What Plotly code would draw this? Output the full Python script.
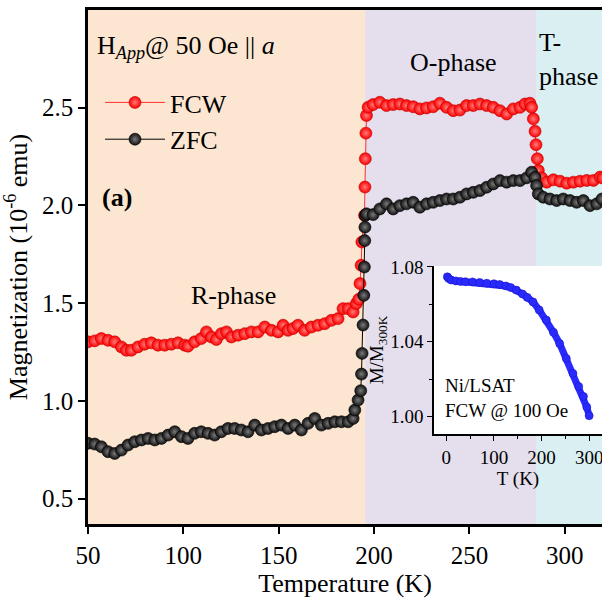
import plotly.graph_objects as go

# ---------------- data ----------------
T_fcw = [50, 53.5, 57, 60.5, 64, 67.5, 70.1, 72.7, 76.2, 79.7, 83.2, 86.7, 90.2, 93.7, 97.2,
         100.7, 102.4, 105.9, 109.4, 112.1, 114.7, 117.3, 119.9, 122.6, 125.2, 128.7, 132.2,
         135.7, 139.2, 142.7, 146.2, 149.7, 152.3, 154.9, 157.5, 160.1, 163.6, 167.1, 170.6,
         174.1, 177.6, 181.1, 183.7, 186.4, 189, 190.7, 192.0, 192.6, 193.2, 193.6, 195.0,
         195.2, 195.4, 195.7, 196.0, 196.9, 199.5, 203, 206.5, 210, 213.5, 217, 220.5, 224,
         227.5, 231, 234.5, 238, 241.5, 245, 248.5, 252, 255.5, 259, 262.5, 266, 269.5, 273,
         276.5, 279.1, 281.7, 282.6, 283.5, 284.4, 284.9, 285.6, 286.1, 287.9, 290.5, 294,
         297.5, 301, 304.5, 308, 311.5, 315, 318.5, 320]
M_fcw = [1.302, 1.307, 1.319, 1.31, 1.302, 1.276, 1.259, 1.259, 1.276, 1.29, 1.297, 1.285,
         1.285, 1.29, 1.297, 1.285, 1.28, 1.302, 1.319, 1.353, 1.327, 1.314, 1.344, 1.353,
         1.327, 1.336, 1.344, 1.353, 1.353, 1.378, 1.361, 1.353, 1.387, 1.361, 1.370, 1.387,
         1.361, 1.378, 1.387, 1.395, 1.412, 1.421, 1.472, 1.472, 1.455, 1.498, 1.52, 1.60,
         1.694, 1.813, 1.949, 2.094, 2.239, 2.37, 2.46, 2.503, 2.516, 2.528, 2.511, 2.516,
         2.519, 2.511, 2.505, 2.494, 2.499, 2.505, 2.523, 2.502, 2.485, 2.488, 2.511, 2.511,
         2.519, 2.511, 2.502, 2.485, 2.468, 2.494, 2.502, 2.519, 2.523, 2.502, 2.443, 2.380,
         2.311, 2.239, 2.179, 2.141, 2.119, 2.131, 2.124, 2.114, 2.119, 2.124, 2.128, 2.128,
         2.145, 2.14]

T_zfc = [50, 53.5, 57, 60.5, 64, 67.5, 71, 74.5, 78, 81.5, 85, 88.5, 92, 95.5, 99, 102.4,
         105.9, 109.4, 112.9, 116.4, 119.9, 123.4, 126.9, 130.4, 133.9, 137.4, 140.9, 144.4,
         147.9, 151.4, 154.9, 158.4, 161.9, 165.4, 168.9, 172.4, 175.9, 179.4, 182.9, 186.4,
         189, 189.9, 191.6, 193.0, 193.4, 193.7, 194.2, 194.6, 194.9, 195.1, 195.2, 195.4,
         196, 199.5, 203, 206.5, 210, 213.5, 217, 220.5, 224, 227.5, 231, 234.5, 238, 241.5,
         245, 248.5, 252, 255.5, 259, 262.5, 266, 269.5, 273, 276.5, 280, 282.6, 284.4, 285.2,
         286.1, 288.7, 292.2, 295.7, 299.2, 302.7, 306.2, 309.7, 313.2, 316.7, 319.5]
M_zfc = [0.783, 0.779, 0.765, 0.740, 0.731, 0.748, 0.774, 0.791, 0.800, 0.808, 0.800, 0.808,
         0.825, 0.842, 0.817, 0.808, 0.834, 0.842, 0.834, 0.825, 0.842, 0.859, 0.859, 0.851,
         0.842, 0.876, 0.851, 0.859, 0.868, 0.876, 0.859, 0.876, 0.851, 0.885, 0.910, 0.876,
         0.885, 0.893, 0.893, 0.893, 0.910, 0.953, 1.004, 1.052, 1.137, 1.243, 1.388, 1.54,
         1.685, 1.82, 1.889, 1.949, 1.957, 1.953, 1.982, 2.008, 1.982, 1.999, 2.008, 2.016,
         1.991, 2.008, 2.016, 2.025, 2.033, 2.033, 2.042, 2.059, 2.067, 2.076, 2.093, 2.110,
         2.127, 2.119, 2.127, 2.127, 2.141, 2.170, 2.144, 2.102, 2.059, 2.042, 2.033, 2.025,
         2.033, 2.025, 2.016, 2.025, 1.999, 2.008, 2.033]

T_inset = [2, 5, 10, 20, 30, 40, 55, 70, 85, 100, 112, 125, 135, 147, 160, 170, 182, 195,
           210, 225, 238, 252, 266, 278, 288, 295, 300]
M_inset = [1.0747, 1.0738, 1.073, 1.0725, 1.0722, 1.0721, 1.072, 1.0717, 1.0713, 1.071,
           1.0706, 1.0698, 1.069, 1.0676, 1.0655, 1.0637, 1.0613, 1.057, 1.0516, 1.045,
           1.039, 1.031, 1.023, 1.016, 1.0107, 1.005, 1.0004]

phase_bounds = [40, 195.3, 285.3, 340]
phase_colors = ["#fde6d1", "#e4deed", "#d9eff2"]

x_ticks = [50, 100, 150, 200, 250, 300]
y_ticks = [0.5, 1.0, 1.5, 2.0, 2.5]
inset_x_ticks = [0, 100, 200, 300]
inset_y_ticks = [1.00, 1.04, 1.08]

FONT = "Liberation Serif"
W, H = 602, 603
ML, MR, MT, MB = 88, 0, 10, 79
PW, PH = W - ML - MR, H - MT - MB


def px2paper(x, y):
    return (x - ML) / PW, (H - MB - y) / PH


fig = go.Figure()

fig.add_trace(go.Scatter(
    x=T_fcw, y=M_fcw, mode="lines+markers", name="FCW",
    line=dict(color="#ff3030", width=1),
    marker=dict(size=12, color="#ff0000", line=dict(color="#c00000", width=0.6),
                gradient=dict(type="radial", color="#ff7a7a")),
))
fig.add_trace(go.Scatter(
    x=T_zfc, y=M_zfc, mode="lines+markers", name="ZFC",
    line=dict(color="#000000", width=1),
    marker=dict(size=12, color="#111111", line=dict(color="#000000", width=0.6),
                gradient=dict(type="radial", color="#7a7a7a")),
))
fig.add_trace(go.Scatter(
    x=T_inset, y=M_inset, mode="lines+markers", showlegend=False,
    line=dict(color="#2a2aff", width=7),
    marker=dict(size=8, color="#2a2aff", line=dict(color="#1818c8", width=0.6)),
    xaxis="x2", yaxis="y2",
))

# phase shading
for i, c in enumerate(phase_colors):
    fig.add_shape(type="rect", xref="x", yref="y", x0=phase_bounds[i], x1=phase_bounds[i + 1],
                  y0=-5, y1=10, fillcolor=c, line=dict(width=0), layer="below")
# inset white background
fig.add_shape(type="rect", xref="x2", yref="y2", x0=-1000, x1=1000, y0=0, y1=2,
              fillcolor="white", line=dict(width=0), layer="below")

axis_common = dict(showgrid=False, zeroline=False, showline=True, linecolor="black",
                   ticks="outside", tickcolor="black")

fig.update_layout(
    width=W, height=H,
    margin=dict(l=ML, r=MR, t=MT, b=MB),
    paper_bgcolor="white", plot_bgcolor="white",
    font=dict(family=FONT, size=26, color="black"),
    showlegend=True,
    legend=dict(x=(100 - ML) / PW, y=px2paper(0, 79)[1], xanchor="left", yanchor="top",
                bgcolor="rgba(0,0,0,0)", font=dict(size=26), tracegroupgap=0,
                itemwidth=60),
    xaxis=dict(**axis_common, range=[50, 319.5], tickvals=x_ticks, linewidth=2.5,
               ticklen=7, tickwidth=2, mirror=True, tickfont=dict(size=25),
               title=dict(text="Temperature (K)", font=dict(size=26), standoff=6)),
    yaxis=dict(**axis_common, range=[0.37, 3.0], tickvals=y_ticks, tickformat=".1f",
               linewidth=2.5, ticklen=7, tickwidth=2, tickfont=dict(size=25),
               title=dict(text="Magnetization (10<sup>-6</sup> emu)", font=dict(size=26),
                          standoff=8)),
    xaxis2=dict(**axis_common, domain=[px2paper(434, 0)[0], 1.0], anchor="y2",
                range=[-26, 327], tickvals=inset_x_ticks, linewidth=1.5, ticklen=5,
                tickwidth=1.2, tickfont=dict(size=19), ticklabeloverflow="allow",
                minor=dict(ticks="outside", dtick=50, tick0=0, ticklen=3, tickcolor="black"),
                title=dict(text="T (K)", font=dict(size=19), standoff=0)),
    yaxis2=dict(**axis_common, domain=[px2paper(0, 434)[1], px2paper(0, 266)[1]],
                anchor="x2", range=[0.9906, 1.0805], tickvals=inset_y_ticks,
                tickformat=".2f", linewidth=1.5, ticklen=5, tickwidth=1.2,
                tickfont=dict(size=19), ticklabeloverflow="allow",
                minor=dict(ticks="outside", dtick=0.02, tick0=1.0, ticklen=3,
                           tickcolor="black"),
                title=dict(text="M/M<sub>300K</sub>", font=dict(size=19), standoff=2)),
)


def ann(text, x, y, size=26, xanchor="left", **kw):
    xp, yp = px2paper(x, y)
    fig.add_annotation(text=text, x=xp, y=yp, xref="paper", yref="paper",
                       xanchor=xanchor, yanchor="middle", showarrow=False,
                       font=dict(family=FONT, size=size, color="black"), **kw)


ann("H<sub><i>App</i></sub>@ 50 Oe || <i>a</i>", 95, 47)
ann("<b>(a)</b>", 100, 197, size=26)
ann("R-phase", 233, 295, xanchor="center")
ann("O-phase", 453, 63, xanchor="center")
ann("T-<br>phase", 537, 60, align="left")
ann("Ni/LSAT", 443, 385, size=19)
ann("FCW @ 100 Oe", 443, 410, size=19)

fig.write_html("out.html", config={"displayModeBar": False},
               post_script="document.body.style.margin='0';")
